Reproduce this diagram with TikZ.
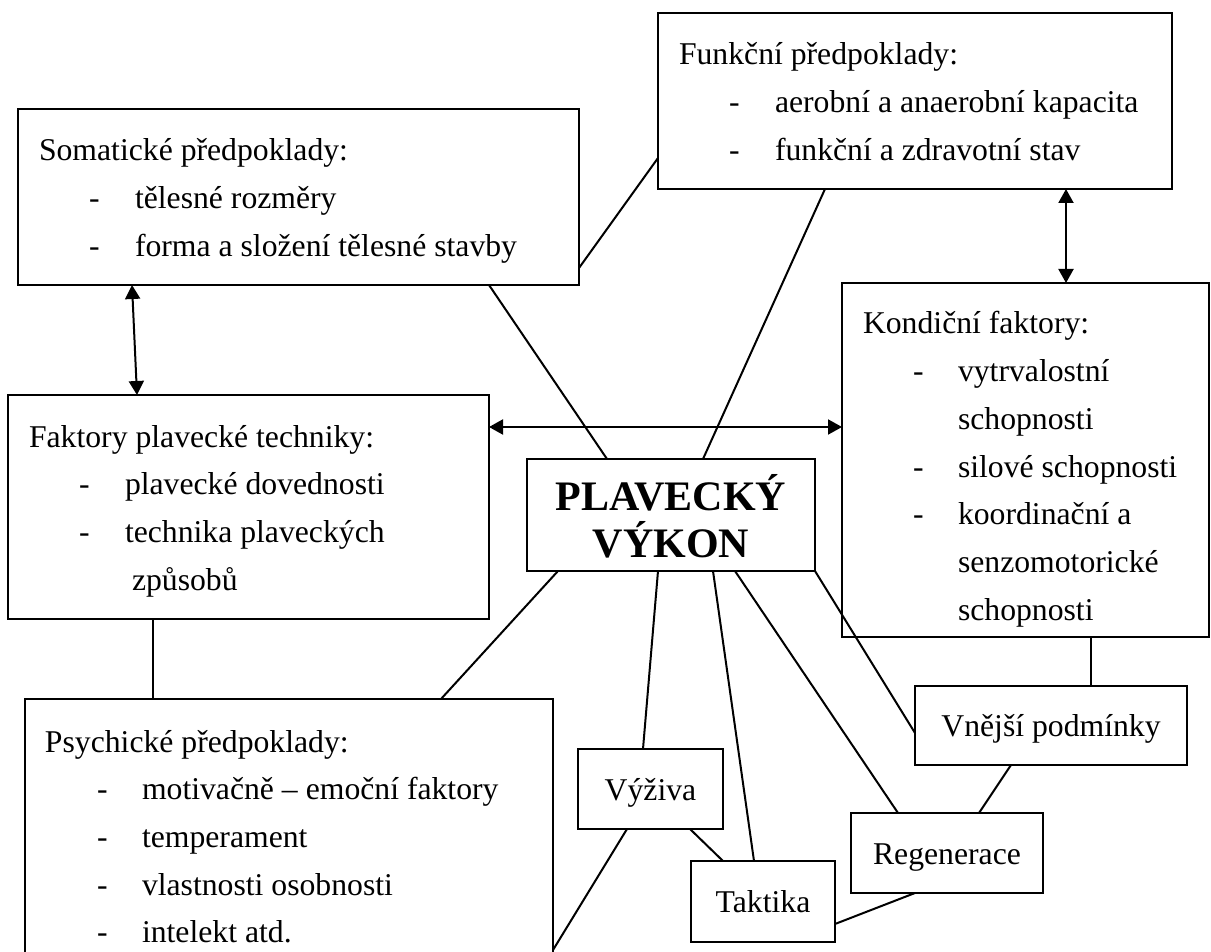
\documentclass[tikz,border=0pt]{standalone}
\usepackage{fontspec}
\setmainfont{Liberation Serif}
\usetikzlibrary{calc,arrows.meta}
\begin{document}
\begin{tikzpicture}[x=1pt,y=-1pt,
  bx/.style={draw, line width=2pt, inner sep=0pt, outer sep=0pt, anchor=north west},
  tx/.style={inner sep=0pt, outer sep=0pt, anchor=base west, font=\fontsize{31.7}{38}\selectfont},
  ctx/.style={inner sep=0pt, outer sep=0pt, anchor=base, font=\fontsize{31.7}{38}\selectfont},
  btx/.style={inner sep=0pt, outer sep=0pt, anchor=base, font=\fontsize{42}{47}\selectfont\bfseries},
  ln/.style={line width=2pt},
  dbl/.style={line width=2pt, {Triangle[length=14pt,width=15pt]}-{Triangle[length=14pt,width=15pt]}}]
\useasboundingbox (0,0) rectangle (1211,952);
\clip (0,0) rectangle (1211,952);

% boxes
\node[bx, minimum width=561pt, minimum height=176pt] (soma) at (18,109) {};
\node[bx, minimum width=514pt, minimum height=176pt] (funk) at (658,13) {};
\node[bx, minimum width=481pt, minimum height=224pt] (fak) at (8,395) {};
\node[bx, minimum width=367pt, minimum height=354pt] (kond) at (842,283) {};
\node[bx, minimum width=288pt, minimum height=112pt] (cen) at (527,459) {};
\node[bx, minimum width=528pt, minimum height=320pt] (psy) at (25,699) {};
\node[bx, minimum width=145pt, minimum height=80pt] (vyz) at (578,749) {};
\node[bx, minimum width=144pt, minimum height=81pt] (tak) at (691,861) {};
\node[bx, minimum width=192pt, minimum height=80pt] (reg) at (851,813) {};
\node[bx, minimum width=272pt, minimum height=79pt] (vnej) at (915,686) {};

% Somatické
\node[tx] (s0) at ($(soma.north west)+(21,52)$) {Somatické předpoklady:};
\node[tx] (s1d) at ($(soma.north west)+(71,99.7)$) {-};
\node[tx] (s1) at ($(soma.north west)+(117,99.7)$) {tělesné rozměry};
\node[tx] (s2d) at ($(soma.north west)+(71,147.4)$) {-};
\node[tx] (s2) at ($(soma.north west)+(117,147.4)$) {forma a složení tělesné stavby};

% Funkční
\node[tx] (f0) at ($(funk.north west)+(21,52)$) {Funkční předpoklady:};
\node[tx] (f1d) at ($(funk.north west)+(71,99.7)$) {-};
\node[tx] (f1) at ($(funk.north west)+(117,99.7)$) {aerobní a anaerobní kapacita};
\node[tx] (f2d) at ($(funk.north west)+(71,147.4)$) {-};
\node[tx] (f2) at ($(funk.north west)+(117,147.4)$) {funkční a zdravotní stav};

% Faktory plavecké techniky
\node[tx] (k0) at ($(fak.north west)+(21,52)$) {Faktory plavecké techniky:};
\node[tx] (k1d) at ($(fak.north west)+(71,99.7)$) {-};
\node[tx] (k1) at ($(fak.north west)+(117,99.7)$) {plavecké dovednosti};
\node[tx] (k2d) at ($(fak.north west)+(71,147.4)$) {-};
\node[tx] (k2) at ($(fak.north west)+(117,147.4)$) {technika plaveckých};
\node[tx] (k3) at ($(fak.north west)+(124,195.1)$) {způsobů};

% Kondiční faktory
\node[tx] (c0) at ($(kond.north west)+(21,51)$) {Kondiční faktory:};
\node[tx] (c1d) at ($(kond.north west)+(71,98.7)$) {-};
\node[tx] (c1) at ($(kond.north west)+(116,98.7)$) {vytrvalostní};
\node[tx] (c2) at ($(kond.north west)+(116,146.4)$) {schopnosti};
\node[tx] (c3d) at ($(kond.north west)+(71,194.1)$) {-};
\node[tx] (c3) at ($(kond.north west)+(116,194.1)$) {silové schopnosti};
\node[tx] (c4d) at ($(kond.north west)+(71,241.8)$) {-};
\node[tx] (c4) at ($(kond.north west)+(116,241.8)$) {koordinační a};
\node[tx] (c5) at ($(kond.north west)+(116,289.5)$) {senzomotorické};
\node[tx] (c6) at ($(kond.north west)+(116,337.2)$) {schopnosti};

% Psychické
\node[tx] (p0) at ($(psy.north west)+(20,53)$) {Psychické předpoklady:};
\node[tx] (p1d) at ($(psy.north west)+(72,100.7)$) {-};
\node[tx] (p1) at ($(psy.north west)+(117,100.7)$) {motivačně – emoční faktory};
\node[tx] (p2d) at ($(psy.north west)+(72,148.4)$) {-};
\node[tx] (p2) at ($(psy.north west)+(117,148.4)$) {temperament};
\node[tx] (p3d) at ($(psy.north west)+(72,196.1)$) {-};
\node[tx] (p3) at ($(psy.north west)+(117,196.1)$) {vlastnosti osobnosti};
\node[tx] (p4d) at ($(psy.north west)+(72,243.8)$) {-};
\node[tx] (p4) at ($(psy.north west)+(117,243.8)$) {intelekt atd.};

% centre
\node[btx] (cen1) at ($(cen.center)+(0,-5)$) {PLAVECKÝ};
\node[btx] (cen2) at ($(cen.center)+(0,42)$) {VÝKON};

% small boxes
\node[ctx] (vyzt) at ($(vyz.center)+(0,11)$) {Výživa};
\node[ctx] (takt) at ($(tak.center)+(0,11)$) {Taktika};
\node[ctx] (regt) at ($(reg.center)+(0,11)$) {Regenerace};
\node[ctx] (vnejt) at ($(vnej.center)+(0,11)$) {Vnější podmínky};

% connectors
\draw[ln] (soma.east |- 0,268) -- (funk.west |- 0,158);
\draw[ln] (soma.south -| 489,0) -- (cen.north -| 607,0);
\draw[ln] (funk.south -| 825,0) -- (cen.north -| 703,0);
\draw[dbl] (funk.south -| 1066,0) -- (kond.north -| 1066,0);
\draw[dbl] (soma.south -| 132,0) -- (fak.north -| 137,0);
\draw[dbl] (fak.east |- 0,427) -- (kond.west |- 0,427);
\draw[ln] (fak.south -| 153,0) -- (psy.north -| 153,0);
\draw[ln] (cen.south -| 558,0) -- (psy.north -| 441,0);
\draw[ln] (cen.south -| 658,0) -- (vyz.north -| 643,0);
\draw[ln] (cen.south -| 713,0) -- (tak.north -| 754,0);
\draw[ln] (cen.south -| 735,0) -- (reg.north -| 898,0);
\draw[ln] (cen.south east) -- (vnej.west |- 0,733);
\draw[ln] (kond.south -| 1091,0) -- (vnej.north -| 1091,0);
\draw[ln] (vnej.south -| 1011,0) -- (reg.north -| 979,0);
\draw[ln] (reg.south -| 915,0) -- (tak.east |- 0,924);
\draw[ln] (vyz.south -| 690,0) -- (tak.north -| 723,0);
\draw[ln] (vyz.south -| 627,0) -- (psy.east |- 0,950);
\end{tikzpicture}
\end{document}
